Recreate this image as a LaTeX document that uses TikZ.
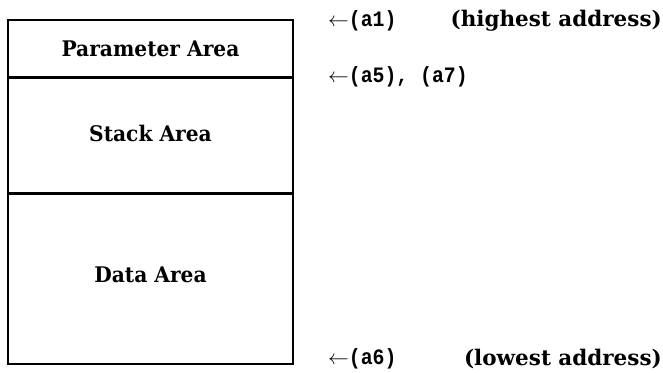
\documentclass[tikz,border=0pt]{standalone}
\usepackage{fontspec}
\newfontfamily\areafont[FakeStretch=0.94]{DejaVu Serif Bold}
\newfontfamily\notefont{DejaVu Serif Bold}
\newfontfamily\addrfont[FakeStretch=0.9]{Liberation Mono Bold}
\begin{document}
\begin{tikzpicture}[x=1pt,y=-1pt,
  area/.style={draw,line width=1.6pt,minimum width=285pt,inner sep=0pt,font=\fontsize{21.5}{26}\areafont},
  lbl/.style={inner sep=0pt,font=\fontsize{21.5}{26}\areafont},
  addr/.style={anchor=west,inner sep=0pt,font=\fontsize{22}{26}\addrfont},
  note/.style={anchor=east,inner sep=0pt,font=\fontsize{21.5}{26}\notefont}]
\useasboundingbox (0,0) rectangle (663,372);
\node[area,minimum height=57pt] (param) at (150.5,48.5) {Parameter Area};
\node[area,minimum height=114pt,anchor=north] (stack) at (param.south) {};
\node[lbl] (stacklbl) at (150.5,133) {Stack Area};
\node[area,minimum height=170pt,anchor=north] (data) at (stack.south) {};
\node[lbl] (datalbl) at (150.5,275) {Data Area};
\node[addr] (a1) at (328,21) {$\leftarrow$(a1)};
\node[note] (hi) at (662,21) {(highest address)};
\node[addr] (a5) at (328,77) {$\leftarrow$(a5), (a7)};
\node[addr] (a6) at (328,359) {$\leftarrow$(a6)};
\node[note] (lo) at (662,359) {(lowest address)};
\end{tikzpicture}
\end{document}
